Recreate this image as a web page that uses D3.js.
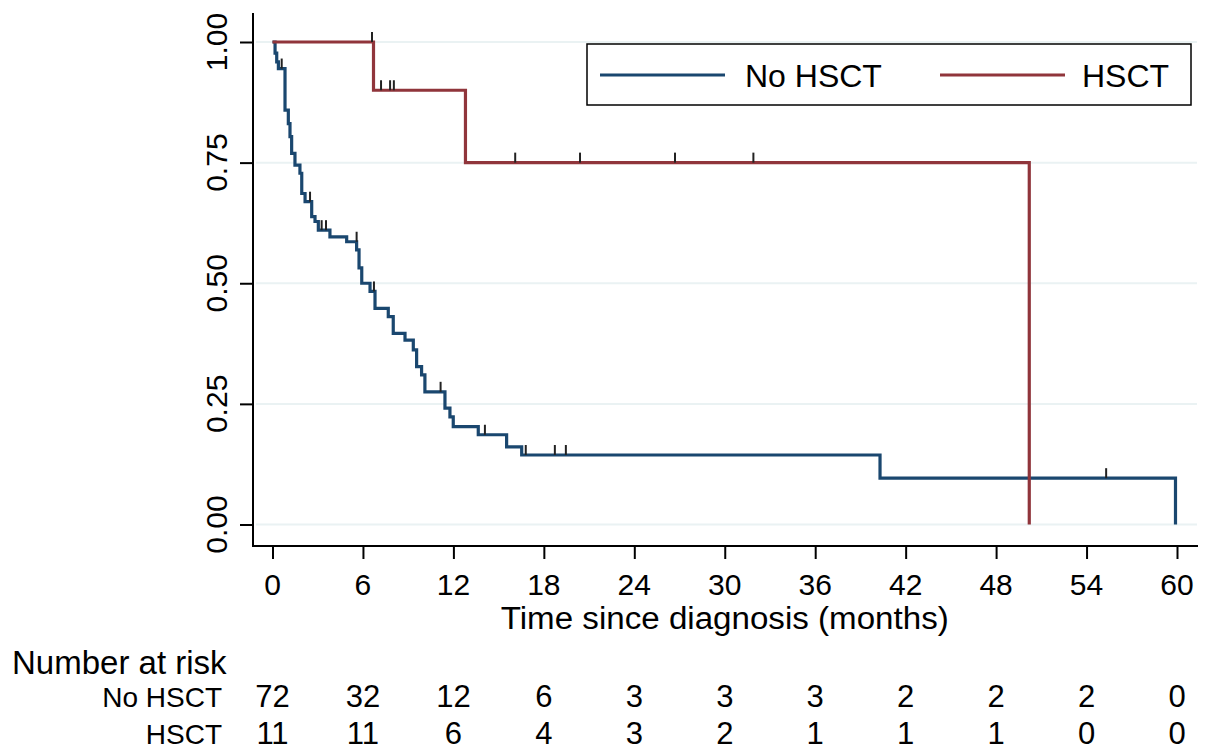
<!DOCTYPE html>
<html>
<head>
<meta charset="utf-8">
<script src="https://cdn.jsdelivr.net/npm/d3@7"></script>
<style>
  body { margin: 0; background: #fff; }
  text { font-family: 'Liberation Sans', Arial, sans-serif; fill: #000; }
</style>
</head>
<body>
<div id="wrapper"></div>
<script>
// Kaplan-Meier steps: time (months) where the step happens, survival after it
const noHsctTimes = [0, 0.17, 0.28, 0.39, 0.83, 1.05, 1.16, 1.27, 1.49, 1.82, 1.94, 2.16, 2.6, 2.82, 3.04,
  3.81, 4.92, 5.58, 5.74, 5.92, 6.47, 6.8, 7.68, 8.01, 8.79, 9.34, 9.56, 9.89, 10.11, 11.44, 11.77,
  11.99, 13.65, 15.53, 16.53, 40.3, 59.9]
const noHsctSurv = [1, 0.977, 0.959, 0.945, 0.859, 0.831, 0.804, 0.769, 0.745, 0.728, 0.686, 0.669, 0.638,
  0.628, 0.61, 0.596, 0.586, 0.569, 0.532, 0.5, 0.483, 0.448, 0.431, 0.396, 0.382, 0.362, 0.327, 0.31,
  0.275, 0.241, 0.223, 0.203, 0.186, 0.161, 0.144, 0.096, 0]
const noHsctCensorTimes = [0.61, 2.49, 3.26, 3.55, 5.58, 6.73, 11.15, 14.09, 16.8, 18.73, 19.46, 55.3]
const noHsctCensorSurv = [0.945, 0.669, 0.61, 0.61, 0.586, 0.483, 0.275, 0.186, 0.144, 0.144, 0.144, 0.096]

const hsctTimes = [0, 6.7, 12.8, 50.2]
const hsctSurv = [1, 0.9, 0.75, 0]
const hsctCensorTimes = [6.6, 7.2, 7.8, 8.05, 16.1, 20.4, 26.7, 31.9]
const hsctCensorSurv = [1, 0.9, 0.9, 0.9, 0.75, 0.75, 0.75, 0.75]

const xTicks = [0, 6, 12, 18, 24, 30, 36, 42, 48, 54, 60]
const yTicks = [0, 0.25, 0.5, 0.75, 1]
const riskNoHsct = [72, 32, 12, 6, 3, 3, 3, 2, 2, 2, 0]
const riskHsct = [11, 11, 6, 4, 3, 2, 1, 1, 1, 0, 0]

const seriesNames = ['No HSCT', 'HSCT']
const colors = ['#1a476f', '#90353b']

const width = 1206
const height = 753

const svg = d3.select('#wrapper')
  .append('svg')
  .attr('width', width)
  .attr('height', height)

const plot = { left: 253, right: 1198, top: 13, bottom: 546 }

const xScale = d3.scaleLinear()
  .domain([0, 60])
  .range([272.5, 1177])

const yScale = d3.scaleLinear()
  .domain([0, 1])
  .range([524.5, 42])

// gridlines
svg.append('g')
  .selectAll('line')
  .data(yTicks)
  .join('line')
  .attr('x1', plot.left + 3)
  .attr('x2', plot.right - 1)
  .attr('y1', d => yScale(d))
  .attr('y2', d => yScale(d))
  .attr('stroke', '#eaf2f3')
  .attr('stroke-width', 2)

// y axis
const yAxis = svg.append('g')
  .attr('transform', `translate(${plot.left},0)`)
  .call(d3.axisLeft(yScale).tickValues(yTicks).tickSize(13).tickFormat(''))
yAxis.select('.domain').remove()
yAxis.selectAll('.tick line').attr('stroke', '#000').attr('stroke-width', 2)
svg.append('line')
  .attr('x1', plot.left).attr('x2', plot.left)
  .attr('y1', plot.top).attr('y2', plot.bottom)
  .attr('stroke', '#000').attr('stroke-width', 2)

svg.append('g')
  .selectAll('text')
  .data(yTicks)
  .join('text')
  .attr('transform', d => `translate(227,${yScale(d)}) rotate(-90)`)
  .attr('text-anchor', 'middle')
  .attr('font-size', 30)
  .text(d3.format('.2f'))

// x axis
const xAxis = svg.append('g')
  .attr('transform', `translate(0,${plot.bottom})`)
  .call(d3.axisBottom(xScale).tickValues(xTicks).tickSize(13).tickFormat(''))
xAxis.select('.domain').remove()
xAxis.selectAll('.tick line').attr('stroke', '#000').attr('stroke-width', 2)
svg.append('line')
  .attr('x1', plot.left - 1).attr('x2', plot.right)
  .attr('y1', plot.bottom).attr('y2', plot.bottom)
  .attr('stroke', '#000').attr('stroke-width', 2)

svg.append('g')
  .selectAll('text')
  .data(xTicks)
  .join('text')
  .attr('x', d => xScale(d))
  .attr('y', 595)
  .attr('text-anchor', 'middle')
  .attr('font-size', 30)
  .text(d => d)

svg.append('text')
  .attr('x', (xScale(0) + xScale(60)) / 2)
  .attr('y', 629)
  .attr('text-anchor', 'middle')
  .attr('font-size', 31)
  .attr('textLength', 448)
  .attr('lengthAdjust', 'spacingAndGlyphs')
  .text('Time since diagnosis (months)')

// survival curves
const line = d3.line()
  .x(d => xScale(d[0]))
  .y(d => yScale(d[1]))
  .curve(d3.curveStepAfter)

const curves = [
  d3.zip(noHsctTimes, noHsctSurv),
  d3.zip(hsctTimes, hsctSurv),
]
const censors = [
  d3.zip(noHsctCensorTimes, noHsctCensorSurv),
  d3.zip(hsctCensorTimes, hsctCensorSurv),
]

curves.forEach((pts, i) => {
  svg.append('path')
    .datum(pts)
    .attr('d', line)
    .attr('fill', 'none')
    .attr('stroke', colors[i])
    .attr('stroke-width', 3.2)
})

censors.forEach(pts => {
  svg.append('g')
    .selectAll('line')
    .data(pts)
    .join('line')
    .attr('x1', d => xScale(d[0]))
    .attr('x2', d => xScale(d[0]))
    .attr('y1', d => yScale(d[1]))
    .attr('y2', d => yScale(d[1]) - 10)
    .attr('stroke', '#222')
    .attr('stroke-width', 2)
})

// legend
const legend = svg.append('g')
legend.append('rect')
  .attr('x', 587).attr('y', 44)
  .attr('width', 604).attr('height', 61)
  .attr('fill', '#fff')
  .attr('stroke', '#000')
  .attr('stroke-width', 1.5)

const legendX = [600, 940]
seriesNames.forEach((name, i) => {
  legend.append('line')
    .attr('x1', legendX[i]).attr('x2', legendX[i] + 125)
    .attr('y1', 75).attr('y2', 75)
    .attr('stroke', colors[i])
    .attr('stroke-width', 3)
  legend.append('text')
    .attr('x', legendX[i] + 145 - i * 3)
    .attr('y', 87)
    .attr('font-size', 32)
    .text(name)
})

// number at risk table
svg.append('text')
  .attr('x', 12)
  .attr('y', 674)
  .attr('font-size', 33)
  .text('Number at risk')

const riskRows = [riskNoHsct, riskHsct]
const riskY = [707, 744]
riskRows.forEach((row, i) => {
  svg.append('text')
    .attr('x', 222)
    .attr('y', riskY[i])
    .attr('text-anchor', 'end')
    .attr('font-size', 28)
    .text(seriesNames[i])
  svg.append('g')
    .selectAll('text')
    .data(row)
    .join('text')
    .attr('x', (d, j) => xScale(xTicks[j]))
    .attr('y', riskY[i])
    .attr('text-anchor', 'middle')
    .attr('font-size', 31)
    .text(d => d)
})
</script>
</body>
</html>
